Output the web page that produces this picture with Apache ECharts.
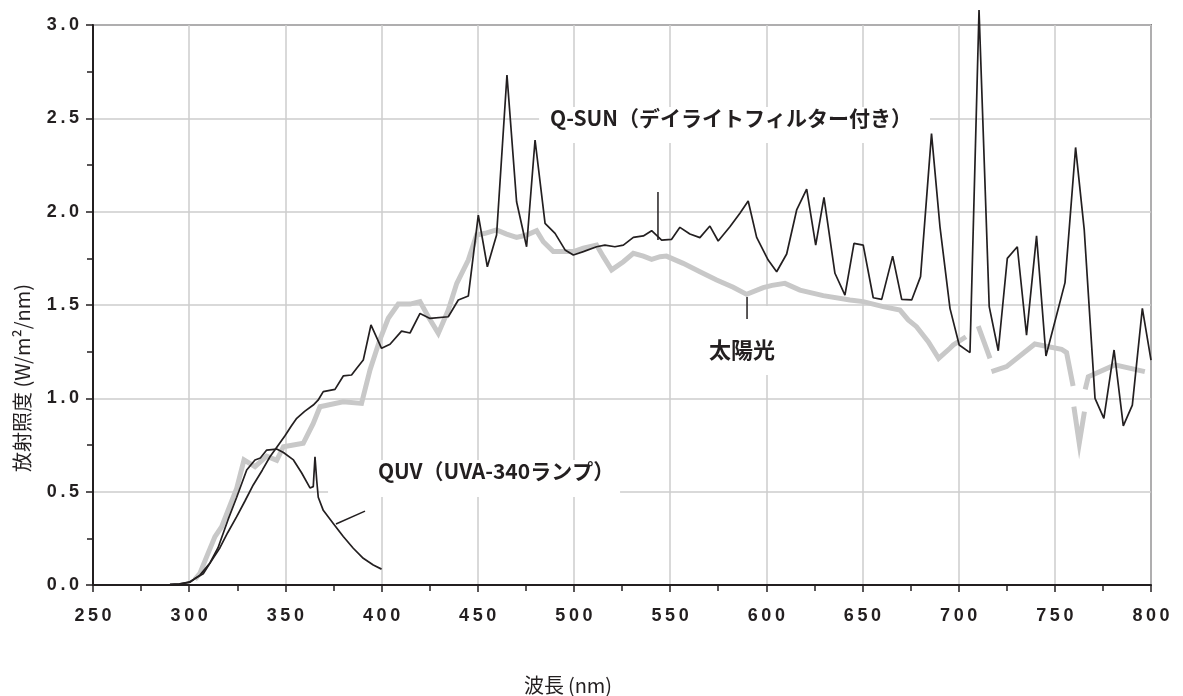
<!DOCTYPE html>
<html>
<head>
<meta charset="utf-8">
<script src="https://cdn.jsdelivr.net/npm/echarts@6/dist/echarts.min.js"></script>
<style>
  html, body { margin: 0; padding: 0; background: #fff; }
  #main { width: 1183px; height: 696px; }
</style>
</head>
<body>
<div id="main"></div>
<script>
// Q-SUN（デイライトフィルター付き）
var qsunNm = [290, 295, 300, 303, 307.3, 311, 316, 320, 324.7, 329, 333.3, 338, 342, 346, 349.8, 353, 355.9, 360, 364.5, 367, 369.7, 375.8, 380.1, 384.4, 387, 390.5, 394.5, 400, 404.4, 410.4, 414.8, 420, 425.2, 434.7, 439.9, 445.1, 450.3, 455, 459.8, 465.2, 470.2, 475.4, 479.8, 485, 490.2, 495.4, 499.7, 504.9, 511.8, 516.1, 521.3, 525.7, 530.9, 536.1, 540.4, 545.6, 550.8, 555.1, 560.3, 565.5, 570.7, 575, 581.1, 586.3, 590.6, 595, 601, 605.4, 610.6, 615.8, 621, 625.7, 630, 635.7, 640.9, 645.6, 650.4, 655.6, 660, 665.7, 670.4, 675.6, 680.2, 685.9, 690.3, 695.5, 700.3, 705.9, 710.6, 715.9, 720.6, 725.3, 730.5, 735.3, 740.5, 745.4, 755.3, 760.8, 765.3, 770.9, 775.5, 780.8, 785.6, 790.3, 795.5, 800];
var qsunVal = [0.003, 0.006, 0.015, 0.035, 0.06, 0.12, 0.2, 0.28, 0.366, 0.45, 0.536, 0.615, 0.687, 0.745, 0.8, 0.85, 0.893, 0.93, 0.964, 0.99, 1.036, 1.048, 1.12, 1.125, 1.16, 1.205, 1.393, 1.268, 1.29, 1.36, 1.35, 1.455, 1.428, 1.437, 1.527, 1.548, 1.982, 1.705, 1.875, 2.732, 2.053, 1.812, 2.384, 1.937, 1.884, 1.795, 1.768, 1.786, 1.812, 1.821, 1.812, 1.821, 1.862, 1.87, 1.898, 1.848, 1.852, 1.916, 1.88, 1.861, 1.923, 1.843, 1.919, 1.991, 2.057, 1.862, 1.741, 1.678, 1.773, 2.009, 2.121, 1.821, 2.077, 1.67, 1.553, 1.83, 1.821, 1.539, 1.53, 1.762, 1.53, 1.527, 1.652, 2.418, 1.919, 1.482, 1.286, 1.245, 3.08, 1.491, 1.255, 1.75, 1.812, 1.339, 1.87, 1.227, 1.62, 2.344, 1.902, 1.0, 0.893, 1.259, 0.852, 0.964, 1.482, 1.205];

// 太陽光 (null = gap in the line)
var sunNm = [303, 305.6, 309.1, 313.4, 316.9, 320.3, 324.7, 328.5, 334.2, 340.3, 345.5, 349, 359.3, 364.5, 368, 380, 389.6, 394, 399.2, 403.5, 408.7, 414.8, 420, 424.3, 429.5, 434.7, 439.1, 445.1, 449.4, 453.8, 459.8, 465, 470.2, 475.4, 480.6, 484.1, 489.3, 499.7, 504.9, 511.8, 515.3, 519.6, 525.7, 530.9, 536.1, 540.4, 544.8, 548.1, 556.8, 565.5, 574.2, 582.8, 589.8, 598.4, 603, 609.7, 617.5, 629.6, 643.5, 650.4, 660.8, 669.5, 673.8, 678.1, 684.2, 689.6, 695.5, 697.2, 703.8, 707, 710.2, 716.3, 716.7, 717.1, 724.9, 739.6, 753.5, 756.1, 759.5, 759.7, 759.9, 762.7, 765.4, 765.6, 765.8, 767.4, 781.2, 796.8];
var sunVal = [0.03, 0.063, 0.152, 0.259, 0.312, 0.402, 0.518, 0.67, 0.634, 0.69, 0.668, 0.741, 0.759, 0.866, 0.955, 0.982, 0.973, 1.152, 1.316, 1.429, 1.505, 1.505, 1.518, 1.437, 1.348, 1.473, 1.616, 1.741, 1.875, 1.884, 1.902, 1.88, 1.862, 1.875, 1.898, 1.839, 1.786, 1.786, 1.804, 1.821, 1.759, 1.688, 1.732, 1.777, 1.762, 1.745, 1.759, 1.762, 1.723, 1.678, 1.634, 1.595, 1.557, 1.593, 1.605, 1.616, 1.58, 1.55, 1.527, 1.518, 1.491, 1.473, 1.42, 1.384, 1.304, 1.214, 1.268, 1.286, 1.33, null, 1.387, 1.214, null, 1.143, 1.17, 1.291, 1.263, 1.245, 1.066, null, 0.955, 0.759, 0.929, null, 1.048, 1.116, 1.179, 1.143];

// QUV（UVA-340ランプ）
var quvNm = [290, 295, 300.4, 305.6, 310.8, 315, 320.2, 324.7, 329.9, 334.2, 337, 340.3, 345.5, 349, 354.2, 358.5, 362.8, 364.5, 365.4, 366.3, 367.1, 369.7, 374.9, 380.1, 385.3, 390.5, 395.7, 400];
var quvVal = [0.002, 0.005, 0.015, 0.053, 0.118, 0.2, 0.35, 0.47, 0.616, 0.67, 0.68, 0.723, 0.728, 0.71, 0.67, 0.6, 0.52, 0.527, 0.687, 0.56, 0.47, 0.4, 0.33, 0.26, 0.197, 0.143, 0.107, 0.085];

var xTicks = [250, 300, 350, 400, 450, 500, 550, 600, 650, 700, 750, 800];

function pairs(xs, ys) {
    var out = [];
    for (var i = 0; i < xs.length; i++) {
        out.push([xs[i], ys[i] === null ? '-' : ys[i]]);
    }
    return out;
}
// letter-spaced bold tick labels
function spaced(v) {
    return String(v).split('').join('\u2009');
}

var ink = '#231f20';
var chart = echarts.init(document.getElementById('main'));

var option = {
    animation: false,
    backgroundColor: '#fff',
    grid: {
        left: 93, right: 32, top: 25, bottom: 111,
        show: true,
        borderColor: ink,
        borderWidth: 1.5
    },
    xAxis: {
        type: 'value',
        min: xTicks[0],
        max: xTicks[xTicks.length - 1],
        interval: 50,
        axisLine: { lineStyle: { color: ink, width: 2 } },
        axisTick: { length: 7, lineStyle: { color: ink, width: 1.5 } },
        minorTick: { show: true, splitNumber: 2, length: 6, lineStyle: { color: ink, width: 1.5 } },
        axisLabel: {
            margin: 22,
            fontFamily: 'Liberation Sans',
            fontWeight: 'bold',
            fontSize: 18,
            color: ink,
            formatter: spaced
        },
        splitLine: { lineStyle: { color: '#cccccc', width: 1.5 } }
    },
    yAxis: {
        type: 'value',
        min: 0,
        max: 3,
        interval: 0.5,
        axisLine: { lineStyle: { color: ink, width: 2 } },
        axisTick: { length: 7, lineStyle: { color: ink, width: 1.5 } },
        minorTick: { show: true, splitNumber: 2, length: 6, lineStyle: { color: ink, width: 1.5 } },
        axisLabel: {
            margin: 14,
            fontFamily: 'Liberation Sans',
            fontWeight: 'bold',
            fontSize: 18,
            color: ink,
            formatter: function (v) { return spaced(v.toFixed(1)); }
        },
        splitLine: { lineStyle: { color: '#cccccc', width: 1.5 } }
    },
    series: [{
        name: '太陽光',
        type: 'line',
        data: pairs(sunNm, sunVal),
        showSymbol: false,
        connectNulls: false,
        z: 3,
        lineStyle: { color: '#c8c8c8', width: 5, join: 'miter' }
    }, {
        name: 'QUV',
        type: 'line',
        data: pairs(quvNm, quvVal),
        showSymbol: false,
        z: 4,
        lineStyle: { color: ink, width: 1.7 }
    }, {
        name: 'Q-SUN',
        type: 'line',
        data: pairs(qsunNm, qsunVal),
        showSymbol: false,
        clip: false,
        z: 4,
        lineStyle: { color: ink, width: 1.7 }
    }]
};
chart.setOption(option);

// annotations placed in data space
function px(nm, v) { return chart.convertToPixel({ gridIndex: 0 }, [nm, v]); }
function box(nm1, v1, nm2, v2) {
    var a = px(nm1, v1), b = px(nm2, v2);
    return {
        type: 'rect', z: 1, silent: true,
        shape: { x: a[0], y: a[1], width: b[0] - a[0], height: b[1] - a[1] },
        style: { fill: '#fff' }
    };
}
function label(nm, v, text, size) {
    var p = px(nm, v);
    return {
        type: 'text', z: 10, silent: true,
        x: p[0], y: p[1],
        style: {
            text: text, fill: ink,
            font: 'bold ' + size + 'px "Noto Sans CJK JP"',
            align: 'center', verticalAlign: 'middle'
        }
    };
}
function leader(nm1, v1, nm2, v2) {
    var a = px(nm1, v1), b = px(nm2, v2);
    return {
        type: 'line', z: 10, silent: true,
        shape: { x1: a[0], y1: a[1], x2: b[0], y2: b[1] },
        style: { stroke: ink, lineWidth: 1.5 }
    };
}

chart.setOption({
    graphic: [
        box(481.9, 2.561, 685.1, 2.368),
        box(563, 1.495, 612, 1.125),
        box(372.2, 0.670, 524, 0.471),
        label(581.7, 2.502, 'Q-SUN（デイライトフィルター付き）', 21),
        label(587.4, 1.259, '太陽光', 22),
        label(459.5, 0.611, 'QUV（UVA-340ランプ）', 21),
        leader(543.7, 2.105, 543.7, 1.848),
        leader(590.0, 1.543, 590.0, 1.425),
        leader(376.3, 0.327, 391.4, 0.396),
        // axis titles
        {
            type: 'text', silent: true, x: 22, y: 378, rotation: Math.PI / 2,
            style: {
                text: '放射照度 (W/m²/nm)', fill: ink,
                font: '20px "Noto Sans CJK JP"', align: 'center', verticalAlign: 'middle'
            }
        },
        {
            type: 'text', silent: true, x: 568, y: 685,
            style: {
                text: '波長\u2009(nm)', fill: ink,
                font: '20px "Noto Sans CJK JP"', align: 'center', verticalAlign: 'middle'
            }
        }
    ]
});
</script>
</body>
</html>
